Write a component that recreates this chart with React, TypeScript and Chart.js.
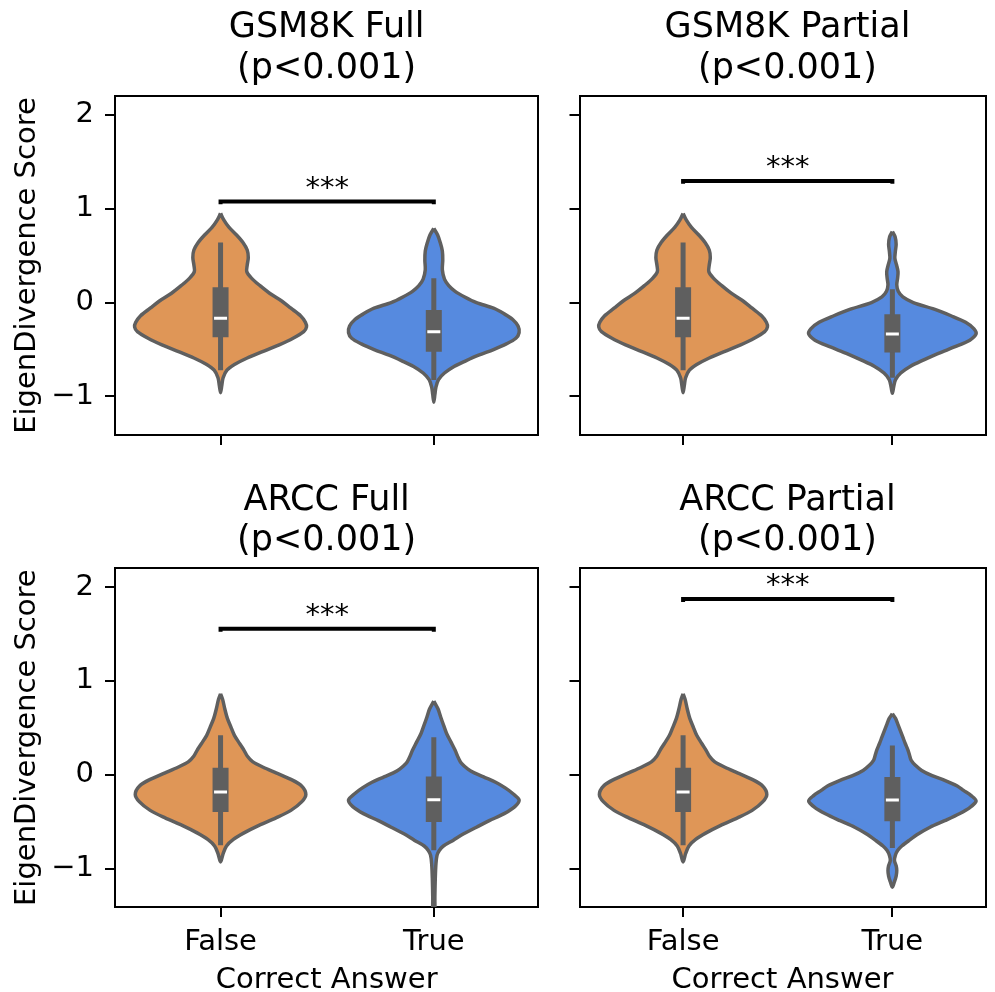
import React, { useEffect, useRef } from 'react';
import { Chart, registerables } from 'chart.js';

Chart.register(...registerables);

// ---------- data ----------
const CATEGORIES = ['False', 'True'];
const PANEL_TITLES = ['GSM8K Full', 'GSM8K Partial', 'ARCC Full', 'ARCC Partial'];
const P_LABELS = ['(p<0.001)', '(p<0.001)', '(p<0.001)', '(p<0.001)'];
const SIG_MARKS = ['***', '***', '***', '***'];
const SIG_HEIGHTS = [1.076, 1.296, 1.555, 1.872];
const Y_TICKS = [-1, 0, 1, 2];
const Y_LABEL = 'EigenDivergence Score';
const X_LABEL = 'Correct Answer';

// violin outlines: score levels (Y) and half widths (W)
const GSM_FALSE_Y = [0.95, 0.88, 0.8, 0.72, 0.64, 0.56, 0.48, 0.4, 0.33, 0.26, 0.18, 0.1, 0.02, -0.06, -0.14, -0.21, -0.26, -0.31, -0.38, -0.45, -0.52, -0.59, -0.66, -0.72, -0.8, -0.88, -0.96];
const GSM_FALSE_W = [0, 0.015, 0.04, 0.075, 0.105, 0.125, 0.13, 0.125, 0.123, 0.145, 0.185, 0.23, 0.285, 0.33, 0.375, 0.398, 0.403, 0.39, 0.34, 0.275, 0.2, 0.125, 0.065, 0.03, 0.012, 0.006, 0];
const GSM_FULL_TRUE_Y = [0.79, 0.72, 0.64, 0.55, 0.45, 0.35, 0.25, 0.18, 0.12, 0.06, 0.0, -0.06, -0.12, -0.18, -0.25, -0.32, -0.38, -0.44, -0.5, -0.56, -0.62, -0.68, -0.75, -0.82, -0.9, -0.98, -1.06];
const GSM_FULL_TRUE_W = [0, 0.018, 0.03, 0.04, 0.042, 0.04, 0.05, 0.07, 0.1, 0.145, 0.2, 0.28, 0.33, 0.37, 0.395, 0.4, 0.385, 0.34, 0.28, 0.21, 0.15, 0.095, 0.05, 0.022, 0.01, 0.005, 0];
const GSM_PART_TRUE_Y = [0.756, 0.7, 0.62, 0.54, 0.47, 0.4, 0.33, 0.26, 0.19, 0.12, 0.06, 0.0, -0.07, -0.14, -0.21, -0.28, -0.334, -0.4, -0.47, -0.54, -0.61, -0.68, -0.75, -0.82, -0.9, -0.966];
const GSM_PART_TRUE_W = [0, 0.013, 0.018, 0.014, 0.012, 0.02, 0.027, 0.025, 0.021, 0.028, 0.05, 0.1, 0.2, 0.28, 0.35, 0.39, 0.4, 0.37, 0.3, 0.22, 0.15, 0.085, 0.04, 0.015, 0.006, 0];
const ARCC_FALSE_Y = [0.863, 0.8, 0.7, 0.6, 0.5, 0.42, 0.33, 0.26, 0.2, 0.14, 0.08, 0.02, -0.05, -0.12, -0.21, -0.29, -0.38, -0.46, -0.54, -0.62, -0.69, -0.76, -0.84, -0.93];
const ARCC_FALSE_W = [0, 0.01, 0.02, 0.032, 0.05, 0.065, 0.09, 0.11, 0.125, 0.15, 0.2, 0.26, 0.33, 0.38, 0.4, 0.38, 0.33, 0.26, 0.18, 0.11, 0.06, 0.028, 0.012, 0];
const ARCC_FULL_TRUE_Y = [0.785, 0.7, 0.61, 0.52, 0.44, 0.35, 0.26, 0.18, 0.12, 0.06, 0.02, -0.03, -0.08, -0.14, -0.2, -0.27, -0.34, -0.415, -0.49, -0.56, -0.63, -0.7, -0.76, -0.81, -0.86, -0.95, -1.1, -1.3, -1.5];
const ARCC_FULL_TRUE_W = [0, 0.02, 0.033, 0.047, 0.06, 0.08, 0.1, 0.115, 0.13, 0.16, 0.19, 0.24, 0.29, 0.335, 0.37, 0.4, 0.38, 0.33, 0.26, 0.2, 0.14, 0.09, 0.045, 0.025, 0.015, 0.01, 0.007, 0.005, 0.004];
const ARCC_PART_TRUE_Y = [0.65, 0.6, 0.545, 0.47, 0.4, 0.33, 0.26, 0.2, 0.153, 0.1, 0.046, -0.01, -0.06, -0.12, -0.167, -0.22, -0.28, -0.35, -0.416, -0.49, -0.56, -0.63, -0.7, -0.76, -0.807, -0.86, -0.915, -0.97, -1.02, -1.08, -1.14, -1.2];
const ARCC_PART_TRUE_W = [0, 0.015, 0.025, 0.038, 0.05, 0.062, 0.075, 0.083, 0.09, 0.11, 0.14, 0.19, 0.25, 0.31, 0.34, 0.375, 0.4, 0.37, 0.32, 0.25, 0.18, 0.125, 0.08, 0.045, 0.025, 0.014, 0.01, 0.018, 0.021, 0.018, 0.01, 0];

// box stats: [whisker low, q1, median, q3, whisker high]
const GSM_FALSE_BOX = [-0.72, -0.37, -0.167, 0.164, 0.64];
const GSM_FULL_TRUE_BOX = [-0.825, -0.523, -0.31, -0.078, 0.26];
const GSM_PART_TRUE_BOX = [-0.8, -0.532, -0.334, -0.124, 0.142];
const ARCC_FALSE_BOX = [-0.753, -0.398, -0.185, 0.075, 0.42];
const ARCC_FULL_TRUE_BOX = [-0.806, -0.504, -0.266, -0.018, 0.4];
const ARCC_PART_TRUE_BOX = [-0.78, -0.495, -0.27, -0.025, 0.31];

const PANEL_VIOLINS = [
  [{ y: GSM_FALSE_Y, w: GSM_FALSE_W, box: GSM_FALSE_BOX }, { y: GSM_FULL_TRUE_Y, w: GSM_FULL_TRUE_W, box: GSM_FULL_TRUE_BOX }],
  [{ y: GSM_FALSE_Y, w: GSM_FALSE_W, box: GSM_FALSE_BOX }, { y: GSM_PART_TRUE_Y, w: GSM_PART_TRUE_W, box: GSM_PART_TRUE_BOX }],
  [{ y: ARCC_FALSE_Y, w: ARCC_FALSE_W, box: ARCC_FALSE_BOX }, { y: ARCC_FULL_TRUE_Y, w: ARCC_FULL_TRUE_W, box: ARCC_FULL_TRUE_BOX }],
  [{ y: ARCC_FALSE_Y, w: ARCC_FALSE_W, box: ARCC_FALSE_BOX }, { y: ARCC_PART_TRUE_Y, w: ARCC_PART_TRUE_W, box: ARCC_PART_TRUE_BOX }],
];

// ---------- style / layout ----------
const FAMILY = 'DejaVu Sans';
const COLORS = ['#DF9657', '#568ADF'];
const EDGE = '#5F5F5F';
const Y_MIN = -1.41;
const Y_MAX = 2.2;
const CW = 995;
const CH = 992;

const GEOM = [
  { col: 0, row: 0, left: 115, right: 538.3, top: 96, bottom: 435, xMin: -0.495, xMax: 1.49 },
  { col: 1, row: 0, left: 579.5, right: 993.3, top: 96, bottom: 435, xMin: -0.495, xMax: 1.445 },
  { col: 0, row: 1, left: 115, right: 538.3, top: 568.3, bottom: 907, xMin: -0.495, xMax: 1.49 },
  { col: 1, row: 1, left: 579.5, right: 993.3, top: 568.3, bottom: 907, xMin: -0.495, xMax: 1.445 },
];
const TITLE_SHIFT = [0, 5];

const TITLE_SIZE = 35;
const TITLE_LH = 40.5;
const TITLE_GAP = 7;
const LABEL_SIZE = 29;

function buildDatasets(idx: number) {
  const ds: any[] = [];
  PANEL_VIOLINS[idx].forEach((v, pos) => {
    const pts: { x: number; y: number }[] = [];
    for (let k = 0; k < v.y.length; k++) pts.push({ x: pos - v.w[k], y: v.y[k] });
    for (let k = v.y.length - 1; k >= 0; k--) {
      if (k === v.y.length - 1 && v.w[k] === 0) continue;
      pts.push({ x: pos + v.w[k], y: v.y[k] });
    }
    ds.push({
      data: pts,
      borderColor: EDGE,
      borderWidth: 3.5,
      backgroundColor: COLORS[pos],
      fill: 'shape',
      tension: 0.3,
      pointRadius: 0,
      order: 4,
      clip: 0,
    });
    const [lo, q1, med, q3, hi] = v.box;
    ds.push({
      data: [{ x: pos, y: lo }, { x: pos, y: hi }],
      borderColor: EDGE,
      borderWidth: 5,
      borderCapStyle: 'butt',
      pointRadius: 0,
      fill: false,
      order: 3,
    });
    ds.push({
      data: [{ x: pos, y: q1 }, { x: pos, y: q3 }],
      borderColor: EDGE,
      borderWidth: 16,
      borderCapStyle: 'butt',
      pointRadius: 0,
      fill: false,
      order: 2,
    });
    ds.push({
      data: [{ x: pos, y: med }],
      showLine: false,
      pointStyle: 'line',
      pointRadius: 6.5,
      pointBorderWidth: 3,
      pointBorderColor: '#FFFFFF',
      pointBackgroundColor: '#FFFFFF',
      order: 1,
    });
  });
  const h = SIG_HEIGHTS[idx];
  ds.push({
    data: [{ x: 0, y: h - 0.03 }, { x: 0, y: h }, { x: 1, y: h }, { x: 1, y: h - 0.03 }],
    borderColor: '#000000',
    borderWidth: 4,
    borderCapStyle: 'butt',
    borderJoinStyle: 'miter',
    pointRadius: 0,
    fill: false,
    order: 0,
  });
  return ds;
}

const annotPlugin = {
  id: 'annot',
  afterDatasetsDraw(chart: any, _args: any, opts: any) {
    const { ctx, scales, chartArea } = chart;
    ctx.save();
    ctx.fillStyle = '#000';
    // significance stars
    ctx.font = `${LABEL_SIZE}px "${FAMILY}"`;
    ctx.textAlign = 'center';
    ctx.textBaseline = 'alphabetic';
    ctx.fillText(opts.mark, scales.x.getPixelForValue(0.5), scales.y.getPixelForValue(opts.height) - 5);
    // panel title (two lines)
    ctx.font = `${TITLE_SIZE}px "${FAMILY}"`;
    ctx.textBaseline = 'middle';
    const cx = (chartArea.left + chartArea.right) / 2 + opts.shift;
    const lines = opts.title as string[];
    lines.forEach((t, i) => {
      const y = chartArea.top - TITLE_GAP - TITLE_LH * (lines.length - i - 0.5);
      ctx.fillText(t, cx, y);
    });
    ctx.restore();
  },
};

function Panel({ idx }: { idx: number }) {
  const ref = useRef<HTMLCanvasElement>(null);
  useEffect(() => {
    const g = GEOM[idx];
    const bottomRow = g.row === 1;
    const leftCol = g.col === 0;
    const yW = leftCol ? 115 : 20;
    const padL = g.left - yW;
    const padR = CW - g.right;
    const padT = g.top;
    const xH = bottomRow ? CH - g.bottom : 60;
    const padB = CH - g.bottom - xH;
    const tickFont = { family: FAMILY, size: LABEL_SIZE };
    const chart = new Chart(ref.current as HTMLCanvasElement, {
      type: 'line',
      data: { datasets: buildDatasets(idx) },
      plugins: [annotPlugin],
      options: {
        animation: false,
        responsive: false,
        devicePixelRatio: 1,
        layout: { padding: { left: padL, right: padR, top: padT, bottom: padB } },
        plugins: {
          legend: { display: false },
          tooltip: { enabled: false },
          title: { display: false },
          annot: {
            mark: SIG_MARKS[idx],
            height: SIG_HEIGHTS[idx],
            title: [PANEL_TITLES[idx], P_LABELS[idx]],
            shift: TITLE_SHIFT[g.col],
          },
        } as any,
        scales: {
          x: {
            type: 'linear',
            position: 'bottom',
            min: g.xMin,
            max: g.xMax,
            afterBuildTicks: (s: any) => {
              s.ticks = CATEGORIES.map((_, i) => ({ value: i }));
            },
            afterFit: (s: any) => {
              s.height = xH;
            },
            ticks: {
              display: bottomRow,
              callback: (v: any) => CATEGORIES[Number(v)] ?? '',
              color: '#000',
              font: tickFont,
              padding: 8,
              maxRotation: 0,
              minRotation: 0,
              autoSkip: false,
            },
            grid: { drawOnChartArea: false, drawTicks: true, tickLength: 10, color: '#000', lineWidth: 2 },
            border: { display: true, color: '#000', width: 2 },
            title: {
              display: bottomRow,
              text: X_LABEL,
              color: '#000',
              font: { family: FAMILY, size: LABEL_SIZE, lineHeight: 0.8 },
              padding: { top: 0, bottom: 0 },
            },
          },
          y: {
            type: 'linear',
            position: 'left',
            min: Y_MIN,
            max: Y_MAX,
            afterBuildTicks: (s: any) => {
              s.ticks = Y_TICKS.map((v) => ({ value: v }));
            },
            afterFit: (s: any) => {
              s.width = yW;
            },
            ticks: {
              display: leftCol,
              callback: (v: any) => (Number(v) < 0 ? '\u2212' + Math.abs(Number(v)) : String(v)),
              color: '#000',
              font: tickFont,
              padding: 11,
            },
            grid: { drawOnChartArea: false, drawTicks: true, tickLength: 10, color: '#000', lineWidth: 2 },
            border: { display: true, color: '#000', width: 2 },
            title: {
              display: leftCol,
              text: Y_LABEL,
              color: '#000',
              font: { family: FAMILY, size: LABEL_SIZE, lineHeight: 1.2 },
              padding: { top: 10, bottom: 0 },
            },
          },
          x2: {
            type: 'linear',
            position: 'top',
            min: g.xMin,
            max: g.xMax,
            afterFit: (s: any) => {
              s.height = 0;
            },
            ticks: { display: false },
            grid: { display: false },
            border: { display: true, color: '#000', width: 2 },
          },
          y2: {
            type: 'linear',
            position: 'right',
            min: Y_MIN,
            max: Y_MAX,
            afterFit: (s: any) => {
              s.width = 0;
            },
            ticks: { display: false },
            grid: { display: false },
            border: { display: true, color: '#000', width: 2 },
          },
        } as any,
      } as any,
    } as any);
    return () => chart.destroy();
  }, [idx]);
  return (
    <canvas
      ref={ref}
      width={CW}
      height={CH}
      style={{ position: 'absolute', left: 0, top: 0, width: CW, height: CH }}
    />
  );
}

export default function App() {
  return (
    <div style={{ position: 'absolute', left: 0, top: 0, width: CW, height: CH, background: '#fff', overflow: 'hidden' }}>
      {[0, 1, 2, 3].map((i) => (
        <Panel key={i} idx={i} />
      ))}
    </div>
  );
}
